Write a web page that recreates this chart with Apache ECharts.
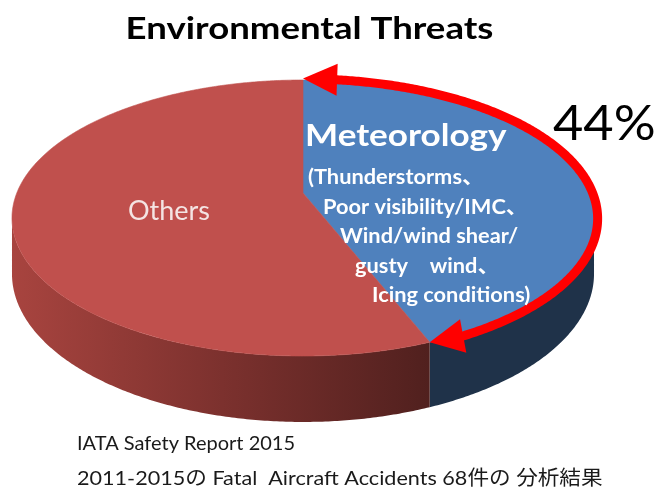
<!DOCTYPE html>
<html>
<head>
<meta charset="utf-8">
<script src="https://cdn.jsdelivr.net/npm/echarts@6/dist/echarts.min.js"></script>
<style>
  html, body { margin: 0; padding: 0; background: #ffffff; }
  #chart { width: 657px; height: 493px; }
</style>
</head>
<body>
<div id="chart"></div>
<script>
// Share of fatal accidents by environmental threat (percent)
const categories = ['Meteorology', 'Others'];
const shares = [44, 56];
const meteorologyDetails = [
  '(Thunderstorms、',
  'Poor visibility/IMC、',
  'Wind/wind shear/',
  'gusty\u3000wind、',
  'Icing conditions)'
];
const titleText = 'Environmental Threats';
const sourceLines = [
  'IATA Safety Report 2015',
  '2011-2015の Fatal  Aircraft Accidents 68件の 分析結果'
];

// Tilted-disc projection used to draw the 3D pie
const CX = 303, CY = 193;     // pie centre on screen
const AX = 286.2, BZ = 98.5;  // disc half-width / depth scale
const PERSP = -0.1812;        // perspective factor (front grows)
const DEPTH = 54;             // thickness of the pie
const TAU = Math.PI * 2;

// phi = 0 at the back of the disc, increasing clockwise on screen
function project(phi, r, drop) {
  const X = r * Math.sin(phi), Z = -r * Math.cos(phi);
  const w = 1 + PERSP * Z;
  return [CX + AX * X / w, (CY + BZ * Z + (drop || 0)) / w];
}
function arcPoints(a, b, r, drop) {
  const pts = [];
  const n = Math.max(2, Math.ceil(Math.abs(b - a) / (Math.PI / 360)));
  for (let i = 0; i <= n; i++) pts.push(project(a + (b - a) * i / n, r, drop));
  return pts;
}
// the rim is visible between the two horizontal extremes through the front
const PHI_R = Math.acos(PERSP), PHI_L = TAU - PHI_R;

const topColors = ['#4F81BD', '#C0504D'];
const sideColors = [
  '#1F3249',
  new echarts.graphic.LinearGradient(12, 0, 432, 0, [
    { offset: 0, color: '#A8443F' },
    { offset: 0.5, color: '#7C312E' },
    { offset: 1, color: '#50201E' }
  ], true)
];

function headAt(pts, fromStart, len, halfW) {
  // walk along the curve until the head length is reached
  const seq = fromStart ? pts : pts.slice().reverse();
  const tip = seq[0];
  let k = 1;
  while (k < seq.length - 1 && Math.hypot(seq[k][0] - tip[0], seq[k][1] - tip[1]) < len) k++;
  const base = seq[k];
  const dx = tip[0] - base[0], dy = tip[1] - base[1];
  const d = Math.hypot(dx, dy) || 1;
  const px = -dy / d * halfW, py = dx / d * halfW;
  return {
    tri: [tip, [base[0] + px, base[1] + py], [base[0] - px, base[1] - py]],
    index: fromStart ? k : pts.length - 1 - k
  };
}

function renderSlice(params, api) {
  const i = params.dataIndex;
  const total = shares.reduce((s, v) => s + v, 0);
  let before = 0;
  for (let k = 0; k < i; k++) before += shares[k];
  const a0 = before / total * TAU;
  const a1 = (before + api.value(0)) / total * TAU;
  const children = [];

  // top face
  children.push({
    type: 'polygon',
    z2: 10,
    shape: { points: [[CX, CY]].concat(arcPoints(a0, a1, 1)) },
    style: { fill: topColors[i], stroke: topColors[i], lineWidth: 0.6 }
  });

  // visible part of the side wall
  const s0 = Math.max(a0, PHI_R), s1 = Math.min(a1, PHI_L);
  if (s1 > s0) {
    const upper = arcPoints(s0, s1, 1);
    const lower = arcPoints(s0, s1, 1, DEPTH).reverse();
    children.push({
      type: 'polygon',
      z2: 1,
      shape: { points: upper.concat(lower) },
      style: { fill: sideColors[i] }
    });
  }

  // double-headed arrow spanning the meteorology slice
  if (i === 0) {
    const pts = arcPoints(a0, a1, 1.012);
    pts[0] = project(a0, 1.015);
    pts[pts.length - 1] = project(a1, 1);
    const h1 = headAt(pts, true, 34, 16);
    const h2 = headAt(pts, false, 33, 17);
    children.push({
      type: 'polyline',
      z2: 20,
      shape: { points: pts.slice(h1.index - 2, h2.index + 3) },
      style: { stroke: '#FF0000', lineWidth: 9, fill: null, lineJoin: 'round' }
    });
    children.push({ type: 'polygon', z2: 21, shape: { points: h1.tri }, style: { fill: '#FF0000' } });
    children.push({ type: 'polygon', z2: 21, shape: { points: h2.tri }, style: { fill: '#FF0000' } });
  }

  return { type: 'group', children: children };
}

const FONT = "Lato, 'Noto Sans CJK JP', sans-serif";
const graphics = [
  {
    type: 'text', x: 309.5, y: 29, scaleX: 1.18,
    style: { text: titleText, font: 'bold 31px ' + FONT, fill: '#000000', align: 'center', verticalAlign: 'middle' }
  },
  {
    type: 'text', x: 305, y: 136, z: 5, scaleX: 1.17,
    style: { text: categories[0], font: 'bold 30px ' + FONT, fill: '#FFFFFF', align: 'left', verticalAlign: 'middle' }
  },
  {
    type: 'text', x: 128, y: 211, z: 5,
    style: { text: categories[1], font: '27px ' + FONT, fill: '#F4E4E3', align: 'left', verticalAlign: 'middle' }
  },
  {
    type: 'text', x: 553, y: 124.5, z: 5, scaleX: 1.09,
    style: { text: shares[0] + '%', font: '48px ' + FONT, fill: '#000000', align: 'left', verticalAlign: 'middle' }
  }
];
const detailX = [308, 323, 340, 355, 372];
meteorologyDetails.forEach((line, k) => {
  graphics.push({
    type: 'text', x: detailX[k], y: 177.5 + k * 29.6, z: 5, scaleX: 1.09,
    style: { text: line, font: 'bold 20px ' + FONT, fill: '#FFFFFF', align: 'left', verticalAlign: 'middle' }
  });
});
const sourceScale = [1, 1.08];
sourceLines.forEach((line, k) => {
  graphics.push({
    type: 'text', x: 77, y: 444 + k * 35, scaleX: sourceScale[k],
    style: { text: line, font: '20px ' + FONT, fill: '#1A1A1A', align: 'left', verticalAlign: 'middle' }
  });
});

const chart = echarts.init(document.getElementById('chart'), null, { renderer: 'canvas' });
chart.setOption({
  animation: false,
  backgroundColor: '#FFFFFF',
  series: [{
    type: 'custom',
    coordinateSystem: 'none',
    renderItem: renderSlice,
    data: shares.map((v, i) => ({ name: categories[i], value: v }))
  }],
  graphic: graphics
});
</script>
</body>
</html>
